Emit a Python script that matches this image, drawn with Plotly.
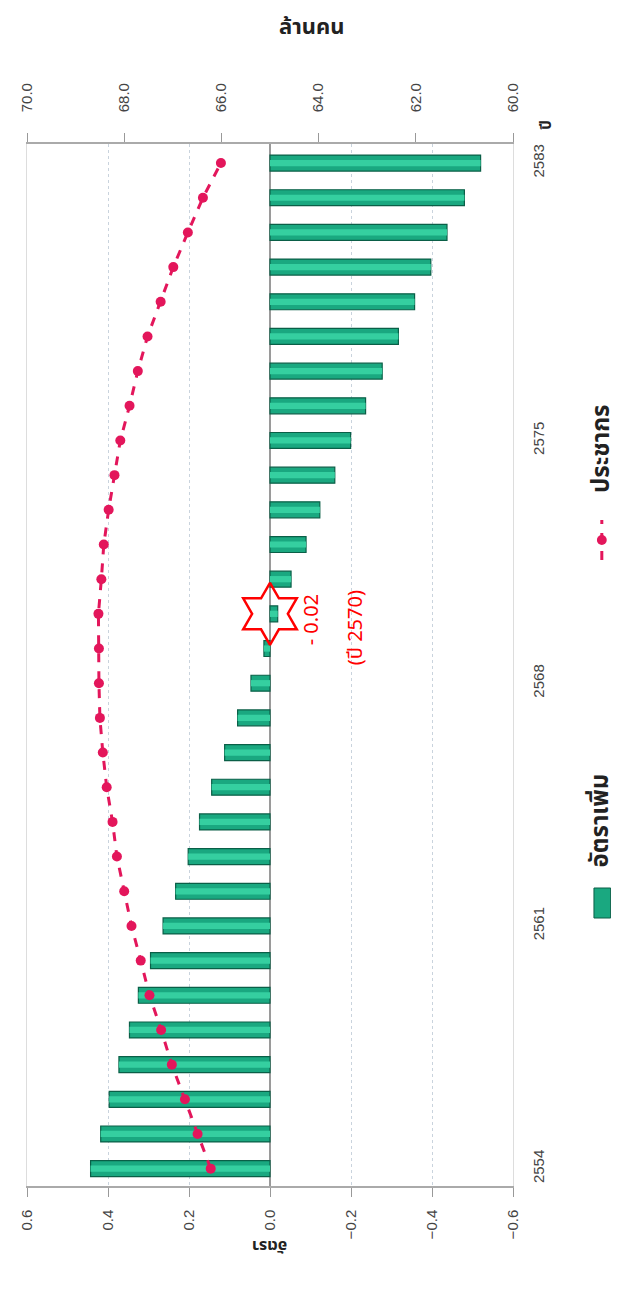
import plotly.graph_objects as go

years = list(range(2554, 2584))
growth_rate = [0.443, 0.418, 0.397, 0.373, 0.347, 0.325, 0.295, 0.264, 0.233, 0.202,
               0.174, 0.144, 0.112, 0.080, 0.047, 0.015, -0.019, -0.052, -0.089, -0.123,
               -0.160, -0.199, -0.236, -0.277, -0.317, -0.357, -0.397, -0.437, -0.480, -0.520]
population = [66.22, 66.49, 66.75, 67.02, 67.24, 67.48, 67.66, 67.85, 68.00, 68.15,
              68.24, 68.36, 68.44, 68.50, 68.52, 68.52, 68.53, 68.47, 68.42, 68.32,
              68.20, 68.08, 67.89, 67.72, 67.52, 67.25, 66.99, 66.69, 66.38, 66.01]
rate_ticks = [0.6, 0.4, 0.2, 0.0, -0.2, -0.4, -0.6]
pop_ticks = [70, 68, 66, 64, 62, 60]
year_ticks = [2554, 2561, 2568, 2575, 2583]
highlight_year = 2570
highlight_label = "- 0.02"
highlight_year_label = "(ปี 2570)"

THAI = "Noto Sans Thai, Tahoma, Loma, Garuda, sans-serif"
NUM = "Liberation Sans, Arial, sans-serif"
GREEN = "#1aa880"
GREEN_EDGE = "#0a5f47"
GREEN_HI = "#35cfa0"
PINK = "#e3165b"

# page offset (body margin) compensation
OFF = 8
PL, PR, PT, PB = 18.3 - OFF, 513.5 - OFF, 144 - OFF, 1186 - OFF
W, H = 619, 1310


def px(x):
    return (x - OFF - PL) / (PR - PL)


def py(y):
    return (PB - (y - OFF)) / (PB - PT)


fig = go.Figure()
fig.add_trace(go.Bar(x=growth_rate, y=years, orientation="h", width=0.46,
                     marker=dict(color=GREEN, line=dict(color=GREEN_EDGE, width=1.2)),
                     xaxis="x", yaxis="y", showlegend=False))
fig.add_trace(go.Bar(x=growth_rate, y=years, orientation="h", width=0.18,
                     marker=dict(color=GREEN_HI, line=dict(width=0)),
                     xaxis="x", yaxis="y", showlegend=False, hoverinfo="skip"))
fig.add_trace(go.Scatter(x=population, y=years, mode="lines+markers",
                         line=dict(color=PINK, width=3, dash="dash"),
                         marker=dict(color=PINK, size=10),
                         xaxis="x2", yaxis="y", showlegend=False))
fig.add_trace(go.Scatter(x=[0], y=[highlight_year], mode="markers",
                         marker=dict(symbol="hexagram-open", size=47, angle=0,
                                     color="red", line=dict(color="red", width=2.5)),
                         xaxis="x", yaxis="y", showlegend=False))

fig.update_layout(
    width=W, height=H,
    margin=dict(l=PL, r=W - PR, t=PT, b=H - PB),
    paper_bgcolor="white", plot_bgcolor="white",
    barmode="overlay",
    xaxis=dict(range=[0.6, -0.6], tickvals=rate_ticks, tickformat=".1f",
               tickangle=-90, ticks="outside", ticklen=9, tickcolor="#999",
               ticklabelstandoff=7,
               tickfont=dict(family=NUM, size=15, color="#444"),
               showgrid=True, gridcolor="#c9d3dd", griddash="dot", gridwidth=1,
               zeroline=True, zerolinecolor="#9a9a9a", zerolinewidth=1.5,
               showline=True, linecolor="#aaa", linewidth=1.5),
    xaxis2=dict(range=[70, 60], tickvals=pop_ticks, tickformat=".1f",
                overlaying="x", side="top", tickangle=-90, ticks="outside",
                ticklen=9, tickcolor="#999", ticklabelstandoff=18,
                tickfont=dict(family=NUM, size=15, color="#444"),
                showgrid=False, zeroline=False,
                showline=True, linecolor="#aaa", linewidth=1.5),
    yaxis=dict(range=[2553.5, 2583.55], tickvals=year_ticks, side="right",
               tickangle=-90, ticks="", ticklabelstandoff=12,
               tickfont=dict(family=NUM, size=15, color="#444"),
               showgrid=False, zeroline=False,
               showline=True, linecolor="#ddd", linewidth=1, mirror=True),
)

# highlight labels
fig.add_annotation(x=px(309), y=py(620), xref="paper", yref="paper", text=highlight_label,
                   textangle=-90, showarrow=False,
                   font=dict(family=THAI, size=20, color="red"))
fig.add_annotation(x=px(371), y=py(628), xref="paper", yref="paper", text=highlight_year_label,
                   textangle=-90, showarrow=False,
                   font=dict(family=THAI, size=20, color="red"))

# titles
fig.add_annotation(x=px(308), y=py(9), xref="paper", yref="paper", text="<b>ล้านคน</b>",
                   showarrow=False, font=dict(family=THAI, size=22, color="#222"))
fig.add_annotation(x=px(562), y=py(118), xref="paper", yref="paper", text="<b>ปี</b>",
                   textangle=-90, showarrow=False, font=dict(family=THAI, size=15, color="#222"))
fig.add_annotation(x=px(266), y=py(1260), xref="paper", yref="paper", text="<b>อัตรา</b>",
                   textangle=180, showarrow=False, font=dict(family=THAI, size=16, color="#222"))

# legend (rotated)
fig.add_shape(type="rect", xref="paper", yref="paper",
              x0=px(596), x1=px(613), y0=py(918), y1=py(888),
              fillcolor=GREEN, line=dict(color=GREEN_EDGE, width=1))
fig.add_annotation(x=px(624), y=py(820), xref="paper", yref="paper",
                   text="<b>อัตราเพิ่ม</b>", textangle=-90, showarrow=False,
                   font=dict(family=THAI, size=24, color="#222"))
fig.add_shape(type="line", xref="paper", yref="paper",
              x0=px(604), x1=px(604), y0=py(560), y1=py(520),
              line=dict(color=PINK, width=3, dash="dash"))
fig.add_shape(type="circle", xref="paper", yref="paper",
              x0=px(599), x1=px(609), y0=py(545), y1=py(535),
              fillcolor=PINK, line=dict(color=PINK, width=0))
fig.add_annotation(x=px(624), y=py(402), xref="paper", yref="paper",
                   text="<b>ประชากร</b>", textangle=-90, showarrow=False,
                   font=dict(family=THAI, size=24, color="#222"))

fig.write_html("out.html")
